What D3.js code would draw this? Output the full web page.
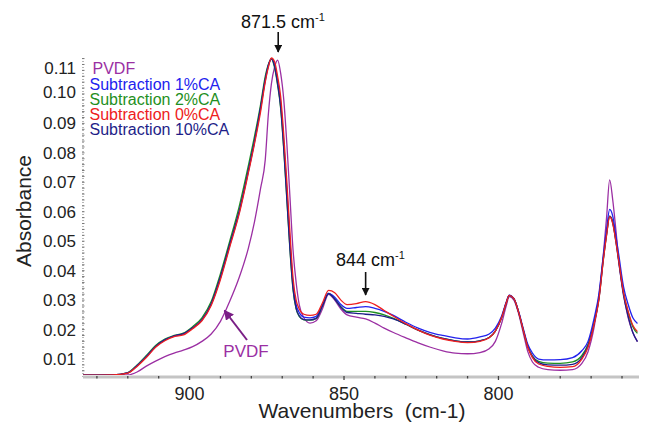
<!DOCTYPE html>
<html>
<head>
<meta charset="utf-8">
<script src="https://cdn.jsdelivr.net/npm/d3@7"></script>
<style>
  body { margin: 0; background: #fff; }
  svg { display: block; font-family: "Liberation Sans", Arial, sans-serif; }
</style>
</head>
<body>
<div id="chart"></div>
<script>
// ----- Data -----
const wavenumbers = [
  935, 925, 920, 917, 914, 911, 908, 905, 902, 899,
  896, 893, 890, 887, 884, 881, 879, 877, 875.5, 874.5,
  873.5, 872.5, 871.5, 870.5, 869.5, 868.5, 867.5, 866.5, 865.5, 864.5,
  863, 861, 859, 857, 855, 853, 851, 849, 846, 843,
  840, 837, 834, 830, 826, 822, 818, 814, 810, 806,
  803, 801, 799, 797.5, 796.5, 795, 793.5, 792, 790.5, 789,
  787, 784, 780, 776, 773, 771, 769, 767.5, 766, 765,
  764, 763, 762, 761, 759.5, 758, 756.5, 755
];

const pvdf = [
  0.0045, 0.0045, 0.0046, 0.0056, 0.0076, 0.0093, 0.0108, 0.0120, 0.0130, 0.0142,
  0.0160, 0.0185, 0.0228, 0.0296, 0.0375, 0.0475, 0.0565, 0.0680, 0.0776, 0.0930,
  0.1035, 0.1090, 0.1115, 0.1070, 0.0980, 0.0830, 0.0650, 0.0470, 0.0360, 0.0285,
  0.0240, 0.0222, 0.0230, 0.0270, 0.0320, 0.0300, 0.0270, 0.0250, 0.0242, 0.0236,
  0.0222, 0.0205, 0.0190, 0.0172, 0.0155, 0.0140, 0.0128, 0.0120, 0.0118, 0.0122,
  0.0135, 0.0160, 0.0220, 0.0280, 0.0312, 0.0300, 0.0255, 0.0190, 0.0125, 0.0090,
  0.0072, 0.0064, 0.0062, 0.0064, 0.0085, 0.0125, 0.0210, 0.0310, 0.0460, 0.0580,
  0.0708, 0.0640, 0.0540, 0.0430, 0.0320, 0.0240, 0.0190, 0.0159
];

const sub1 = [
  0.0045, 0.0046, 0.0053, 0.0077, 0.0108, 0.0142, 0.0165, 0.0178, 0.0185, 0.0205,
  0.0232, 0.0285, 0.0375, 0.0485, 0.0595, 0.0735, 0.0835, 0.0950, 0.1045, 0.1095,
  0.1120, 0.1100, 0.1045, 0.0970, 0.0835, 0.0670, 0.0500, 0.0355, 0.0285, 0.0258,
  0.0242, 0.0240, 0.0245, 0.0283, 0.0323, 0.0310, 0.0285, 0.0272, 0.0275, 0.0278,
  0.0272, 0.0262, 0.0248, 0.0225, 0.0205, 0.0190, 0.0180, 0.0172, 0.0168, 0.0175,
  0.0185, 0.0205, 0.0245, 0.0293, 0.0317, 0.0305, 0.0262, 0.0205, 0.0150, 0.0120,
  0.0100, 0.0097, 0.0098, 0.0105, 0.0128, 0.0160, 0.0240, 0.0320, 0.0455, 0.0540,
  0.0608, 0.0585, 0.0520, 0.0450, 0.0345, 0.0285, 0.0240, 0.0221
];

const sub2 = [
  0.0045, 0.0046, 0.0054, 0.0080, 0.0112, 0.0146, 0.0168, 0.0180, 0.0188, 0.0210,
  0.0240, 0.0295, 0.0390, 0.0500, 0.0615, 0.0755, 0.0855, 0.0965, 0.1060, 0.1100,
  0.1118, 0.1090, 0.1030, 0.0950, 0.0810, 0.0640, 0.0470, 0.0335, 0.0270, 0.0245,
  0.0233, 0.0232, 0.0238, 0.0280, 0.0323, 0.0305, 0.0278, 0.0262, 0.0262, 0.0262,
  0.0258, 0.0250, 0.0238, 0.0218, 0.0198, 0.0182, 0.0170, 0.0162, 0.0158, 0.0162,
  0.0173, 0.0195, 0.0240, 0.0290, 0.0316, 0.0305, 0.0260, 0.0200, 0.0142, 0.0110,
  0.0092, 0.0086, 0.0085, 0.0090, 0.0112, 0.0150, 0.0225, 0.0305, 0.0445, 0.0525,
  0.0585, 0.0565, 0.0505, 0.0432, 0.0325, 0.0258, 0.0210, 0.0187
];

const sub0 = [
  0.0045, 0.0046, 0.0052, 0.0075, 0.0105, 0.0140, 0.0162, 0.0176, 0.0182, 0.0203,
  0.0230, 0.0282, 0.0370, 0.0480, 0.0590, 0.0730, 0.0830, 0.0940, 0.1040, 0.1090,
  0.1122, 0.1110, 0.1060, 0.0990, 0.0860, 0.0700, 0.0530, 0.0375, 0.0300, 0.0270,
  0.0252, 0.0248, 0.0252, 0.0290, 0.0333, 0.0325, 0.0300, 0.0285, 0.0288, 0.0295,
  0.0285, 0.0265, 0.0245, 0.0220, 0.0198, 0.0180, 0.0168, 0.0160, 0.0156, 0.0160,
  0.0172, 0.0195, 0.0240, 0.0290, 0.0316, 0.0305, 0.0260, 0.0200, 0.0140, 0.0105,
  0.0083, 0.0075, 0.0072, 0.0074, 0.0100, 0.0140, 0.0220, 0.0300, 0.0440, 0.0520,
  0.0583, 0.0560, 0.0500, 0.0430, 0.0325, 0.0262, 0.0215, 0.0193
];

const sub10 = [
  0.0045, 0.0046, 0.0053, 0.0077, 0.0108, 0.0143, 0.0165, 0.0179, 0.0186, 0.0206,
  0.0234, 0.0288, 0.0380, 0.0490, 0.0600, 0.0740, 0.0840, 0.0955, 0.1050, 0.1098,
  0.1120, 0.1095, 0.1035, 0.0955, 0.0815, 0.0645, 0.0475, 0.0340, 0.0272, 0.0247,
  0.0234, 0.0233, 0.0238, 0.0280, 0.0322, 0.0303, 0.0276, 0.0258, 0.0255, 0.0252,
  0.0250, 0.0245, 0.0236, 0.0218, 0.0198, 0.0182, 0.0170, 0.0162, 0.0158, 0.0162,
  0.0173, 0.0195, 0.0240, 0.0290, 0.0316, 0.0305, 0.0260, 0.0200, 0.0142, 0.0108,
  0.0088, 0.0080, 0.0079, 0.0082, 0.0105, 0.0145, 0.0222, 0.0302, 0.0442, 0.0522,
  0.0585, 0.0562, 0.0500, 0.0425, 0.0315, 0.0245, 0.0190, 0.0159
];

const yTicks = [0.01, 0.02, 0.03, 0.04, 0.05, 0.06, 0.07, 0.08, 0.09, 0.10, 0.11];
const xTicksLabeled = [900, 850, 800];

// legend order (top to bottom); drawn in drawOrder
const series = [
  { label: "PVDF",              values: pvdf,  color: "#9b2fa3" },
  { label: "Subtraction 1%CA",  values: sub1,  color: "#2222ee" },
  { label: "Subtraction 2%CA",  values: sub2,  color: "#1f8f22" },
  { label: "Subtraction 0%CA",  values: sub0,  color: "#ee2020" },
  { label: "Subtraction 10%CA", values: sub10, color: "#1e1e88" }
];
const drawOrder = [0, 2, 1, 4, 3];

// ----- Config -----
const width = 647, height = 428;
const plotL = 83, plotR = 639, plotT = 58, plotB = 377;

const svg = d3.select("#chart").append("svg")
  .attr("width", width)
  .attr("height", height);

const x = d3.scaleLinear().domain([934.5, 754.5]).range([plotL, plotR]);
const y = d3.scaleLinear().domain([0.0039, 0.1122]).range([plotB, plotT]);

// ----- Axes -----
// y axis: dotted grey line with small ticks
svg.append("line")
  .attr("x1", plotL).attr("x2", plotL)
  .attr("y1", plotT).attr("y2", plotB)
  .attr("stroke", "#888").attr("stroke-width", 1.2)
  .attr("stroke-dasharray", "1,2");

svg.append("g")
  .selectAll("line")
  .data(d3.range(0.006, 0.1121, 0.002))
  .join("line")
  .attr("x1", plotL - 1).attr("x2", plotL + 1.5)
  .attr("y1", d => y(d)).attr("y2", d => y(d))
  .attr("stroke", "#777").attr("stroke-width", 1);

// top two labels sit a little squeezed in the original
const labelNudge = { "0.11": 4, "0.10": -2 };
svg.append("g")
  .selectAll("text")
  .data(yTicks)
  .join("text")
  .attr("x", plotL - 7)
  .attr("y", d => y(d) + 6 + (labelNudge[d3.format(".2f")(d)] || 0))
  .attr("text-anchor", "end")
  .attr("font-size", 17)
  .attr("fill", "#222")
  .text(d => d3.format(".2f")(d));

// x axis: thick light grey line with small dark ticks
svg.append("line")
  .attr("x1", plotL).attr("x2", plotR)
  .attr("y1", plotB).attr("y2", plotB)
  .attr("stroke", "#c4c4c4").attr("stroke-width", 3);

svg.append("g")
  .selectAll("line")
  .data(d3.range(930, 755, -10))
  .join("line")
  .attr("x1", d => x(d)).attr("x2", d => x(d))
  .attr("y1", plotB - 1)
  .attr("y2", d => plotB + (d % 50 === 0 ? 3 : 1.5))
  .attr("stroke", "#444").attr("stroke-width", 1.3);

svg.append("g")
  .selectAll("text")
  .data(xTicksLabeled)
  .join("text")
  .attr("x", d => x(d))
  .attr("y", 399.5)
  .attr("text-anchor", "middle")
  .attr("font-size", 18)
  .attr("fill", "#222")
  .text(d => d);

// axis titles
svg.append("text")
  .attr("x", 362).attr("y", 418)
  .attr("text-anchor", "middle")
  .attr("font-size", 21)
  .attr("fill", "#222")
  .style("white-space", "pre")
  .text("Wavenumbers  (cm-1)");

svg.append("text")
  .attr("transform", "translate(31,211) rotate(-90)")
  .attr("text-anchor", "middle")
  .attr("font-size", 21)
  .attr("fill", "#222")
  .text("Absorbance");

// ----- Curves -----
svg.append("clipPath").attr("id", "plot")
  .append("rect")
  .attr("x", plotL).attr("y", plotT - 4)
  .attr("width", plotR - plotL).attr("height", plotB - plotT + 2);

const line = d3.line()
  .x((d, i) => x(wavenumbers[i]))
  .y(d => y(d))
  .curve(d3.curveMonotoneX);

svg.append("g")
  .attr("clip-path", "url(#plot)")
  .selectAll("path")
  .data(drawOrder.map(i => series[i]))
  .join("path")
  .attr("fill", "none")
  .attr("stroke", d => d.color)
  .attr("stroke-width", 1.3)
  .attr("stroke-linejoin", "round")
  .attr("d", d => line(d.values));

// ----- Legend -----
const legendY = [74, 89.5, 104.7, 120, 135.2];
svg.append("g")
  .selectAll("text")
  .data(series)
  .join("text")
  .attr("x", (d, i) => i === 0 ? 92.5 : 89.5)
  .attr("y", (d, i) => legendY[i])
  .attr("font-size", 16)
  .attr("fill", d => d.color)
  .text(d => d.label);

// ----- Annotations -----
svg.append("defs").selectAll("marker")
  .data([["headBlack", "#111"], ["headPurple", "#7a1f86"]])
  .join("marker")
  .attr("id", d => d[0])
  .attr("viewBox", "0 0 10 10")
  .attr("refX", 9).attr("refY", 5)
  .attr("markerWidth", 5).attr("markerHeight", 5)
  .attr("orient", "auto")
  .append("path")
  .attr("d", "M0,0L10,5L0,10Z")
  .attr("fill", d => d[1]);

function peakLabel(xText, yBase, main) {
  const t = svg.append("text")
    .attr("x", xText).attr("y", yBase)
    .attr("font-size", 18)
    .attr("fill", "#111");
  t.append("tspan").text(main);
  t.append("tspan").attr("dy", -7).attr("font-size", 11).text("-1");
}

peakLabel(241, 28, "871.5 cm");
svg.append("line")
  .attr("x1", x(871.3)).attr("x2", x(871.3))
  .attr("y1", 32).attr("y2", 52)
  .attr("stroke", "#111").attr("stroke-width", 1.6)
  .attr("marker-end", "url(#headBlack)");

peakLabel(336, 266, "844 cm");
svg.append("line")
  .attr("x1", x(843)).attr("x2", x(843))
  .attr("y1", 272).attr("y2", 295)
  .attr("stroke", "#111").attr("stroke-width", 1.6)
  .attr("marker-end", "url(#headBlack)");

svg.append("line")
  .attr("x1", 247).attr("y1", 340)
  .attr("x2", 224.5).attr("y2", 310.5)
  .attr("stroke", "#7a1f86").attr("stroke-width", 2)
  .attr("marker-end", "url(#headPurple)");

svg.append("text")
  .attr("x", 246).attr("y", 357)
  .attr("text-anchor", "middle")
  .attr("font-size", 17)
  .attr("fill", "#9b2fa3")
  .text("PVDF");
</script>
</body>
</html>
